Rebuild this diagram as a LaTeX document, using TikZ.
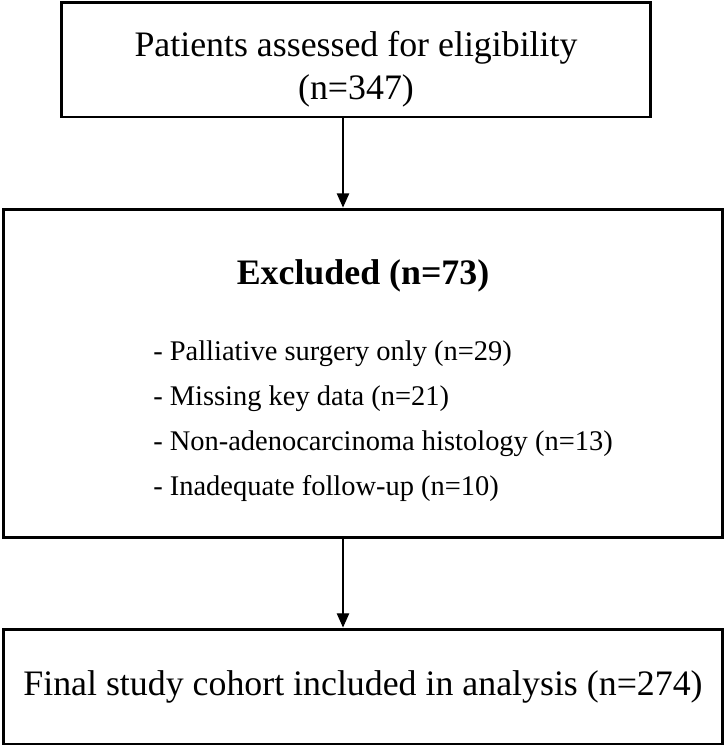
\documentclass[tikz,border=0pt]{standalone}
\usepackage{fontspec}
\setmainfont{Liberation Serif}
\usetikzlibrary{arrows.meta, positioning}

\begin{document}
\begin{tikzpicture}[x=0.02cm, y=-0.02cm,
    stage/.style={rectangle, draw, line width=1.7pt, align=center, inner sep=0pt, font=\fontsize{20.4}{24.5}\selectfont},
    flow/.style={-{Triangle[width=7pt, length=8pt]}, line width=0.6pt}
]
\useasboundingbox (0,0) rectangle (726,748);
\node[stage, minimum width=11.8cm, minimum height=2.3cm] (assessed) at (356,59.5) {\rule{0pt}{25pt}Patients assessed for eligibility\\(n=347)};
\node[stage, minimum width=14.4cm, minimum height=6.58cm] (excluded) at (363,373.5) {\rule{0pt}{26pt}\textbf{Excluded (n=73)}\\[0.66cm]
    \fontsize{16.2}{25.6}\selectfont\begin{tabular}[t]{@{\hspace{0.8cm}}l@{}}
    - Palliative surgery only (n=29)\\
    - Missing key data (n=21)\\
    - Non-adenocarcinoma histology (n=13)\\
    - Inadequate follow-up (n=10)
    \end{tabular}};
\node[stage, minimum width=14.4cm, minimum height=2.3cm] (cohort) at (363,686.5) {Final study cohort included in analysis (n=274)};

\coordinate (axis) at (343,0);
\draw[flow] (assessed.south -| axis) -- (excluded.north -| axis);
\draw[flow] (excluded.south -| axis) -- (cohort.north -| axis);
\end{tikzpicture}
\end{document}
